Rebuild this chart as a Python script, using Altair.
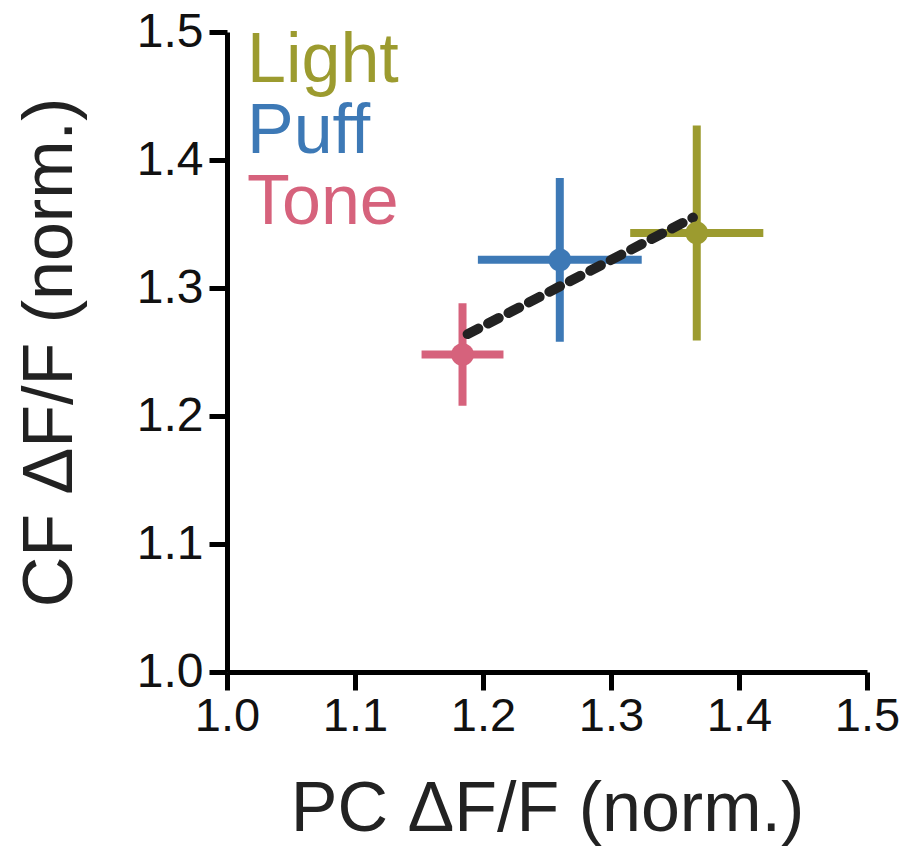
import altair as alt
import pandas as pd

conditions = ["Light", "Puff", "Tone"]
colors = ["#9c9b2f", "#3d79b6", "#d6627c"]
pc_mean = [1.367, 1.260, 1.184]
pc_err = [0.052, 0.064, 0.032]
cf_mean = [1.343, 1.322, 1.248]
cf_err = [0.084, 0.064, 0.040]

fit_x = [1.188, 1.364]
fit_y = [1.264, 1.355]

df = pd.DataFrame({
    "cond": conditions,
    "color": colors,
    "pc": pc_mean,
    "pc_lo": [m - e for m, e in zip(pc_mean, pc_err)],
    "pc_hi": [m + e for m, e in zip(pc_mean, pc_err)],
    "cf": cf_mean,
    "cf_lo": [m - e for m, e in zip(cf_mean, cf_err)],
    "cf_hi": [m + e for m, e in zip(cf_mean, cf_err)],
})
fit = pd.DataFrame({"pc": fit_x, "cf": fit_y})

FONT = "Liberation Sans"
xs = alt.Scale(domain=[1.0, 1.5], nice=False, zero=False)
ys = alt.Scale(domain=[1.0, 1.5], nice=False, zero=False)
color = alt.Color("cond:N", scale=alt.Scale(domain=conditions, range=colors), legend=None)

xaxis = alt.Axis(values=[1.0, 1.1, 1.2, 1.3, 1.4, 1.5], format=".1f", grid=False,
                 domainColor="black", domainWidth=5, tickColor="black", tickWidth=5,
                 tickSize=18, labelFont=FONT, labelFontSize=47, labelColor="#111",
                 labelPadding=3, labelFlush=False, labelOverlap=False,
                 title="PC ΔF/F (norm.)", titleFont=FONT,
                 titleFontSize=70, titleFontWeight="normal", titleColor="#222",
                 titlePadding=36)
yaxis = alt.Axis(values=[1.0, 1.1, 1.2, 1.3, 1.4, 1.5], format=".1f", grid=False,
                 domainColor="black", domainWidth=5, tickColor="black", tickWidth=5,
                 tickSize=18, labelFont=FONT, labelFontSize=48, labelColor="#111",
                 labelPadding=6, labelFlush=False, labelOverlap=False,
                 title="CF ΔF/F (norm.)", titleFont=FONT,
                 titleFontSize=70, titleFontWeight="normal", titleColor="#222",
                 titlePadding=50)

base = alt.Chart(df)

hbar = base.mark_rule(strokeWidth=8).encode(
    x=alt.X("pc_lo:Q", scale=xs, axis=xaxis), x2="pc_hi:Q",
    y=alt.Y("cf:Q", scale=ys, axis=yaxis), color=color)
vbar = base.mark_rule(strokeWidth=8).encode(
    x=alt.X("pc:Q", scale=xs), y=alt.Y("cf_lo:Q", scale=ys), y2="cf_hi:Q", color=color)
pts = base.mark_circle(size=520, opacity=1).encode(
    x=alt.X("pc:Q", scale=xs), y=alt.Y("cf:Q", scale=ys), color=color)
line = alt.Chart(fit).mark_line(color="#222", strokeWidth=10, strokeDash=[12, 11],
                                strokeCap="round").encode(
    x=alt.X("pc:Q", scale=xs), y=alt.Y("cf:Q", scale=ys))

legend_layers = []
for i, (c, col) in enumerate(zip(conditions, colors)):
    legend_layers.append(
        alt.Chart(pd.DataFrame({"t": [c]})).mark_text(
            font=FONT, fontSize=70, color=col, align="left", baseline="alphabetic"
        ).encode(text="t:N", x=alt.value(20), y=alt.value(50 + 71 * i))
    )

chart = alt.layer(hbar, vbar, line, pts, *legend_layers).properties(
    width=640, height=640,
    autosize=alt.AutoSizeParams(type="none"),
    padding={"left": 219, "top": 24, "right": 33, "bottom": 176},
).configure_view(stroke=None)

chart.save("out.html", embed_options={"renderer": "svg", "actions": False})
